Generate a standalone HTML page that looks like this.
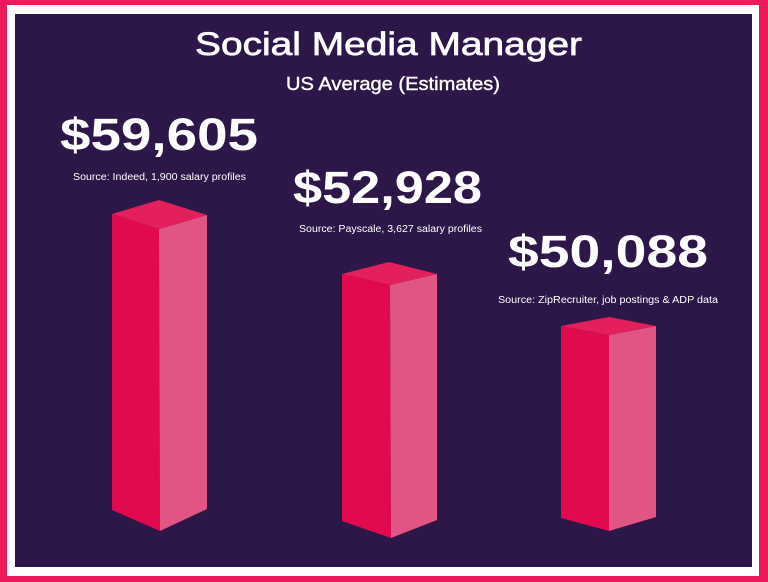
<!DOCTYPE html>
<html><head><meta charset="utf-8"><style>
html,body{margin:0;padding:0;background:#ec1a5b;}
svg{display:block;}
text{font-family:"Liberation Sans",sans-serif;fill:#fff;}
</style></head><body>
<svg width="768" height="582" viewBox="0 0 768 582" xmlns="http://www.w3.org/2000/svg">
<rect x="0" y="0" width="768" height="582" fill="#ec1a5b"/>
<rect x="7" y="5" width="752" height="571" fill="#ffffff"/>
<rect x="15" y="14" width="737" height="553" fill="#2d1648"/>

<text x="195" y="55" font-size="32" textLength="387" lengthAdjust="spacingAndGlyphs" stroke="#fff" stroke-width="0.7">Social Media Manager</text>
<text x="286" y="90" font-size="18" textLength="214" lengthAdjust="spacingAndGlyphs" stroke="#fff" stroke-width="0.4">US Average (Estimates)</text>

<text x="60" y="150" font-size="45" font-weight="bold" textLength="198" lengthAdjust="spacingAndGlyphs">$59,605</text>
<text x="73" y="180" font-size="10" textLength="173" lengthAdjust="spacingAndGlyphs">Source: Indeed, 1,900 salary profiles</text>

<text x="293" y="203" font-size="45" font-weight="bold" textLength="189" lengthAdjust="spacingAndGlyphs">$52,928</text>
<text x="299" y="232" font-size="10" textLength="183" lengthAdjust="spacingAndGlyphs">Source: Payscale, 3,627 salary profiles</text>

<text x="508" y="267" font-size="45" font-weight="bold" textLength="200" lengthAdjust="spacingAndGlyphs">$50,088</text>
<text x="498" y="303" font-size="10" textLength="220" lengthAdjust="spacingAndGlyphs">Source: ZipRecruiter, job postings &amp; ADP data</text>

<!-- Bar 1 -->
<polygon points="112,214 159,229 160,531 112,510" fill="#e20a4e"/>
<polygon points="159,229 207,215 207,509 160,531" fill="#e05583"/>
<polygon points="112,214 159,200 207,215 159,229" fill="#e31f5c"/>

<!-- Bar 2 -->
<polygon points="342,274 390,285 391,538 342,521" fill="#e20a4e"/>
<polygon points="390,285 437,274 437,520 391,538" fill="#e05583"/>
<polygon points="342,274 389,262 437,274 390,285" fill="#e31f5c"/>

<!-- Bar 3 -->
<polygon points="561,326 609,335 609,531 561,518" fill="#e20a4e"/>
<polygon points="609,335 656,326 656,517 609,531" fill="#e05583"/>
<polygon points="561,326 609,317 656,326 609,335" fill="#e31f5c"/>
</svg>
</body></html>
